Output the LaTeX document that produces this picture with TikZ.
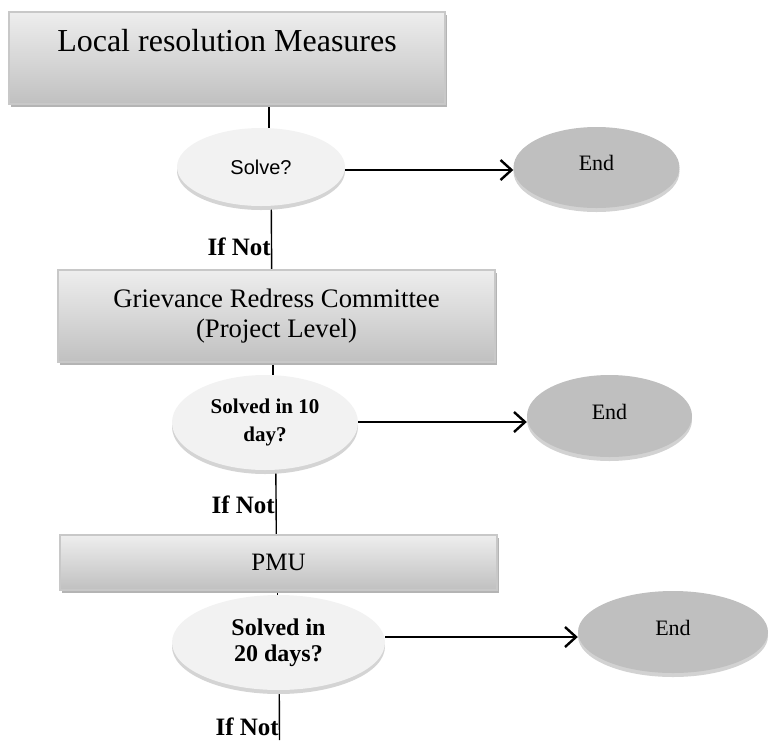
\documentclass[tikz,border=0pt]{standalone}
\usepackage{fontspec}
\setmainfont{Liberation Serif}
\newfontfamily\arialfont{Liberation Sans}
\usetikzlibrary{shapes.geometric,arrows.meta,shadows,backgrounds}
\definecolor{boxtop}{HTML}{EEEEEE}
\definecolor{boxbot}{HTML}{C0C0C0}
\definecolor{boxedge}{HTML}{C8C8C8}
\definecolor{boxshadow}{HTML}{B4B4B4}
\definecolor{qfill}{HTML}{F2F2F2}
\definecolor{qshadow}{HTML}{D4D4D4}
\definecolor{endfill}{HTML}{BFBFBF}
\definecolor{endshadow}{HTML}{D2D2D2}
\tikzset{
  stagebox/.style={rectangle, inner sep=0pt, top color=boxtop, bottom color=boxbot,
    draw=boxedge, line width=1.2pt, align=center,
    drop shadow={shadow xshift=1.5pt, shadow yshift=-3pt, fill=boxshadow, opacity=1}},
  question/.style={ellipse, inner sep=0pt, fill=qfill, align=center,
    drop shadow={shadow xshift=0pt, shadow yshift=-4pt, fill=qshadow, opacity=1}},
  endnode/.style={ellipse, inner sep=0pt, fill=endfill, align=center,
    minimum width=166pt, minimum height=81pt,
    font=\fontsize{22}{26}\selectfont,
    drop shadow={shadow xshift=0pt, shadow yshift=-4pt, fill=endshadow, opacity=1}},
  link/.style={draw=black, line width=1.4pt},
  yesarrow/.style={draw=black, line width=2.4pt, -{Straight Barb[length=11pt,width=20pt,line width=2.4pt]}},
  ifnot/.style={anchor=base east, inner sep=0pt, font=\bfseries\fontsize{25}{28}\selectfont},
}
\begin{document}
\begin{tikzpicture}[x=1pt,y=-1pt]
\useasboundingbox (0,0) rectangle (769,740);

% stage boxes
\node[stagebox, minimum width=436pt, minimum height=92pt, font=\fontsize{32}{36}\selectfont]
  (b1) at (227,58) {\raisebox{35pt}{Local resolution Measures}};
\node[stagebox, minimum width=437pt, minimum height=92pt, font=\fontsize{26.7}{30}\selectfont]
  (b2) at (276.5,316) {\raisebox{7pt}{\begin{tabular}{@{}c@{}}Grievance Redress Committee\\(Project Level)\end{tabular}}};
\node[stagebox, minimum width=437pt, minimum height=55pt, font=\fontsize{25}{29}\selectfont]
  (b3) at (278.5,562.5) {PMU};

% questions
\node[question, minimum width=168pt, minimum height=78pt, font=\arialfont\fontsize{20}{24}\selectfont]
  (q1) at (261,167) {Solve?};
\node[question, minimum width=186pt, minimum height=95pt, font=\bfseries\fontsize{21}{28}\selectfont]
  (q2) at (265,422.5) {Solved in 10\\day?};
\node[question, minimum width=213pt, minimum height=95pt, font=\bfseries\fontsize{24}{26}\selectfont]
  (q3) at (278.5,642.5) {Solved in\\20 days?};

% ends
\node[endnode] (n1) at (596.5,167.5) {\raisebox{9pt}{End}};
\node[endnode, minimum width=165pt, minimum height=82pt] (n2) at (609.5,416) {\raisebox{8pt}{End}};
\node[endnode, minimum width=190pt, minimum height=82pt] (n3) at (673,632) {\raisebox{9pt}{End}};

% connector guide coordinates
\coordinate (l1) at (269,0);
\coordinate (l2a) at (271,0);
\coordinate (l2b) at (272,0);
\coordinate (l3) at (273,0);
\coordinate (l4a) at (275.5,0);
\coordinate (l4b) at (276.5,0);
\coordinate (l5) at (277.5,0);
\coordinate (l6) at (279,0);
\coordinate (bottom) at (279.5,740);
\coordinate (a1) at (0,170);
\coordinate (a2) at (0,422);
\coordinate (a3) at (0,637);

\begin{scope}[on background layer]
\draw[link] (b1.center -| l1) -- (q1.center -| l1);
\draw[link] (q1.center -| l2a) -- (b2.center -| l2b);
\draw[link] (b2.center -| l3) -- (q2.center -| l3);
\draw[link] (q2.center -| l4a) -- (b3.center -| l4b);
\draw[link] (b3.center -| l5) -- (q3.center -| l5);
\draw[link] (q3.center -| l6) -- (bottom);
\end{scope}

% yes arrows
\draw[yesarrow] (q1.east |- a1) -- (n1.west |- a1);
\draw[yesarrow] (q2.east |- a2) -- (n2.west |- a2);
\draw[yesarrow] (q3.east |- a3) -- (n3.west |- a3);

% labels
\node[ifnot] (t1) at (271,255) {If Not};
\node[ifnot] (t2) at (275,513) {If Not};
\node[ifnot] (t3) at (279,735) {If Not};
\end{tikzpicture}
\end{document}
